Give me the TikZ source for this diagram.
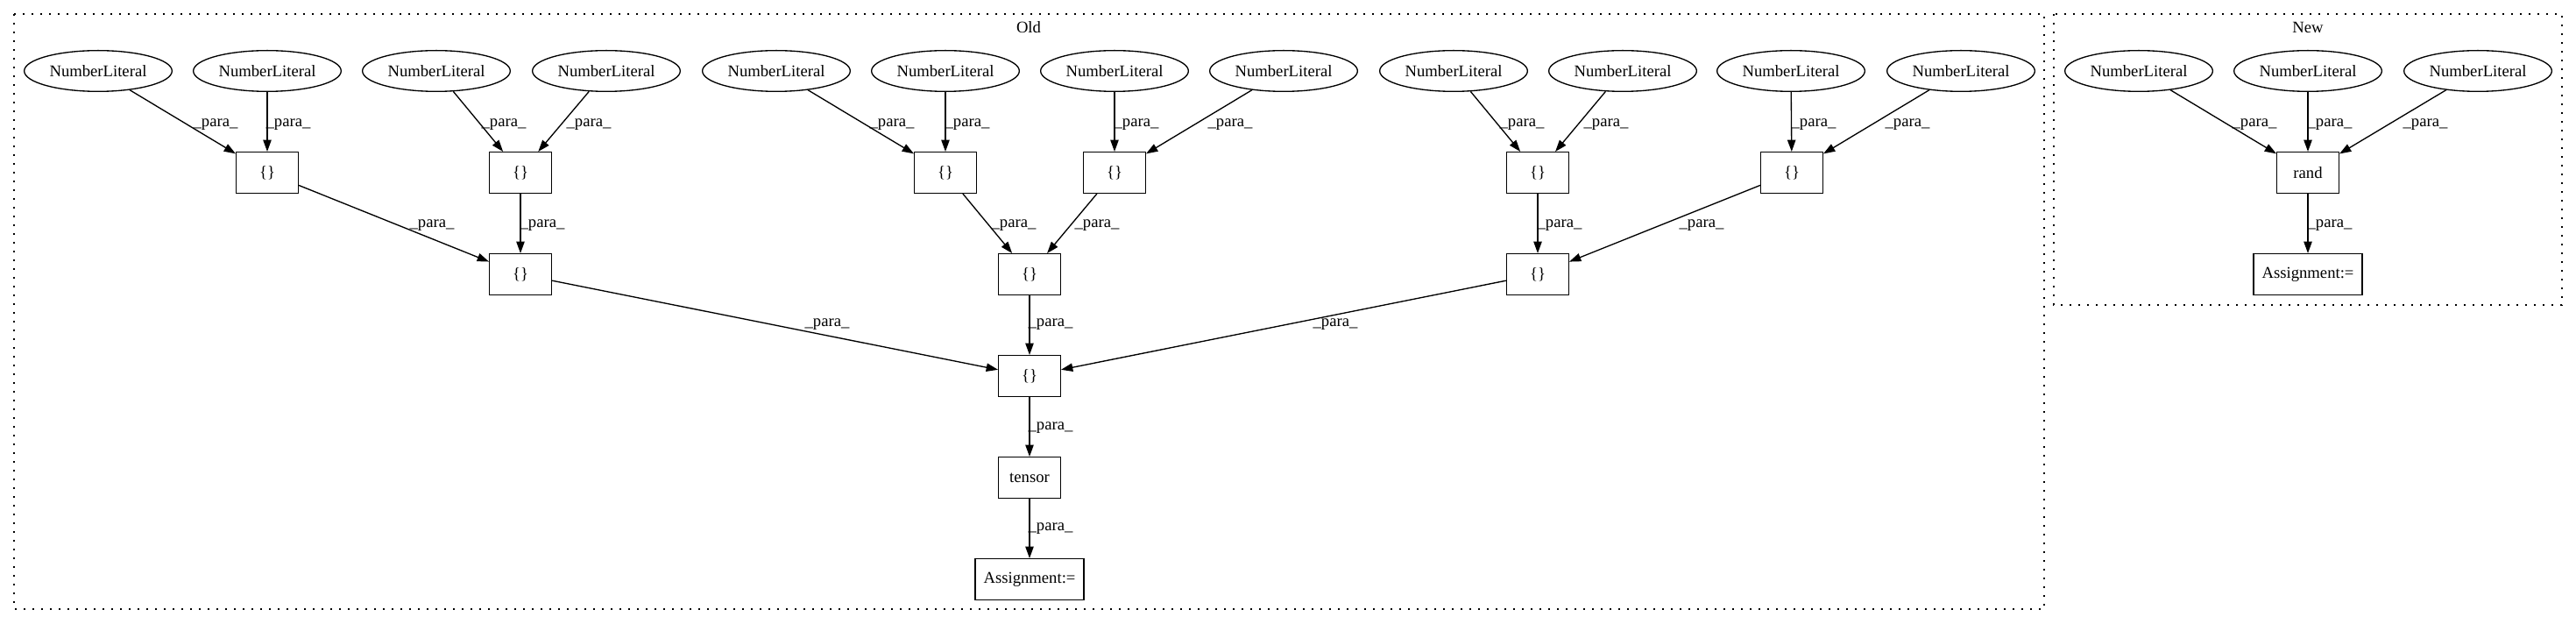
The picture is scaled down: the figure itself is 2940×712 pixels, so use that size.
\documentclass[tikz,border=0pt]{standalone}
\usepackage{fontspec}
\setmainfont{Liberation Serif}
\usetikzlibrary{arrows.meta,shapes.geometric}
\begin{document}
\begin{tikzpicture}[x=0.75pt,y=-0.75pt,
  txt/.style={font=\fontsize{14}{16}\selectfont},
  lit/.style={txt,draw,ellipse,line width=1pt,minimum width=126.5pt,minimum height=35pt,inner sep=0pt},
  box/.style={txt,draw,rectangle,line width=1pt,minimum width=53pt,minimum height=35pt,inner sep=0pt},
  wbox/.style={box,minimum width=93pt},
  edge/.style={-{Triangle[length=10pt,width=7pt]},line width=1pt},
  lbl/.style={txt,inner sep=0pt},
  cluster/.style={draw,dash pattern=on 1.5pt off 6pt,line width=1pt}]
\useasboundingbox (0,0) rectangle (2940,712);
% clusters
\draw[cluster] (16,16) rectangle (2333,695);
\draw[cluster] (2344,16) rectangle (2924,348);
\node[lbl] (oldlbl) at (1174,31) {Old};
\node[lbl] (newlbl) at (2634,31) {New};
% Old: literals
\node[lit] (E1) at (112,81) {NumberLiteral};
\node[lit] (E2) at (305,81) {NumberLiteral};
\node[lit] (E3) at (498,81) {NumberLiteral};
\node[lit] (E4) at (692,81) {NumberLiteral};
\node[lit] (E5) at (886,81) {NumberLiteral};
\node[lit] (E6) at (1079,81) {NumberLiteral};
\node[lit] (E7) at (1272,81) {NumberLiteral};
\node[lit] (E8) at (1465,81) {NumberLiteral};
\node[lit] (E9) at (1659,81) {NumberLiteral};
\node[lit] (E10) at (1852,81) {NumberLiteral};
\node[lit] (E11) at (2044,81) {NumberLiteral};
\node[lit] (E12) at (2238,81) {NumberLiteral};
% Old: boxes
\node[box] (B1) at (305,197) {\{\}};
\node[box] (B2) at (594,197) {\{\}};
\node[box] (B3) at (1079,197) {\{\}};
\node[box] (B4) at (1272,197) {\{\}};
\node[box] (B5) at (1755,197) {\{\}};
\node[box] (B6) at (2045,197) {\{\}};
\node[box] (M1) at (594,313) {\{\}};
\node[box] (M2) at (1175,313) {\{\}};
\node[box] (M3) at (1755,313) {\{\}};
\node[box] (C) at (1175,429) {\{\}};
\node[box] (T) at (1175,545) {tensor};
\node[wbox] (A) at (1175,661) {Assignment:=};
% New
\node[lit] (N1) at (2441,81) {NumberLiteral};
\node[lit] (N2) at (2634,81) {NumberLiteral};
\node[lit] (N3) at (2828,81) {NumberLiteral};
\node[box] (R) at (2634,197) {rand};
\node[wbox] (A2) at (2634,313) {Assignment:=};
% edges
\draw[edge] (E1) -- (B1);
\draw[edge] (E2) -- (B1);
\draw[edge] (E3) -- (B2);
\draw[edge] (E4) -- (B2);
\draw[edge] (E5) -- (B3);
\draw[edge] (E6) -- (B3);
\draw[edge] (E7) -- (B4);
\draw[edge] (E8) -- (B4);
\draw[edge] (E9) -- (B5);
\draw[edge] (E10) -- (B5);
\draw[edge] (E11) -- (B6);
\draw[edge] (E12) -- (B6);
\draw[edge] (B1) -- (M1);
\draw[edge] (B2) -- (M1);
\draw[edge] (B3) -- (M2);
\draw[edge] (B4) -- (M2);
\draw[edge] (B5) -- (M3);
\draw[edge] (B6) -- (M3);
\draw[edge] (M1) -- (C);
\draw[edge] (M2) -- (C);
\draw[edge] (M3) -- (C);
\draw[edge] (C) -- (T);
\draw[edge] (T) -- (A);
\draw[edge] (N1) -- (R);
\draw[edge] (N2) -- (R);
\draw[edge] (N3) -- (R);
\draw[edge] (R) -- (A2);
% edge labels
\node[lbl] (l1) at (246,142) {\_para\_};
\node[lbl] (l2) at (329,142) {\_para\_};
\node[lbl] (l3) at (575,142) {\_para\_};
\node[lbl] (l4) at (672,142) {\_para\_};
\node[lbl] (l5) at (1018,142) {\_para\_};
\node[lbl] (l6) at (1104,142) {\_para\_};
\node[lbl] (l7) at (1297,142) {\_para\_};
\node[lbl] (l8) at (1404,142) {\_para\_};
\node[lbl] (l9) at (1737,142) {\_para\_};
\node[lbl] (l10) at (1833,142) {\_para\_};
\node[lbl] (l11) at (2070,142) {\_para\_};
\node[lbl] (l12) at (2177,142) {\_para\_};
\node[lbl] (l13) at (493,257) {\_para\_};
\node[lbl] (l14) at (619,257) {\_para\_};
\node[lbl] (l15) at (1157,257) {\_para\_};
\node[lbl] (l16) at (1252,257) {\_para\_};
\node[lbl] (l17) at (1780,257) {\_para\_};
\node[lbl] (l18) at (1942,257) {\_para\_};
\node[lbl] (l19) at (944,370) {\_para\_};
\node[lbl] (l20) at (1199,370) {\_para\_};
\node[lbl] (l21) at (1524,370) {\_para\_};
\node[lbl] (l22) at (1199,488) {\_para\_};
\node[lbl] (l23) at (1199,603) {\_para\_};
\node[lbl] (l24) at (2573,142) {\_para\_};
\node[lbl] (l25) at (2659,142) {\_para\_};
\node[lbl] (l26) at (2768,142) {\_para\_};
\node[lbl] (l27) at (2659,257) {\_para\_};
\end{tikzpicture}
\end{document}
